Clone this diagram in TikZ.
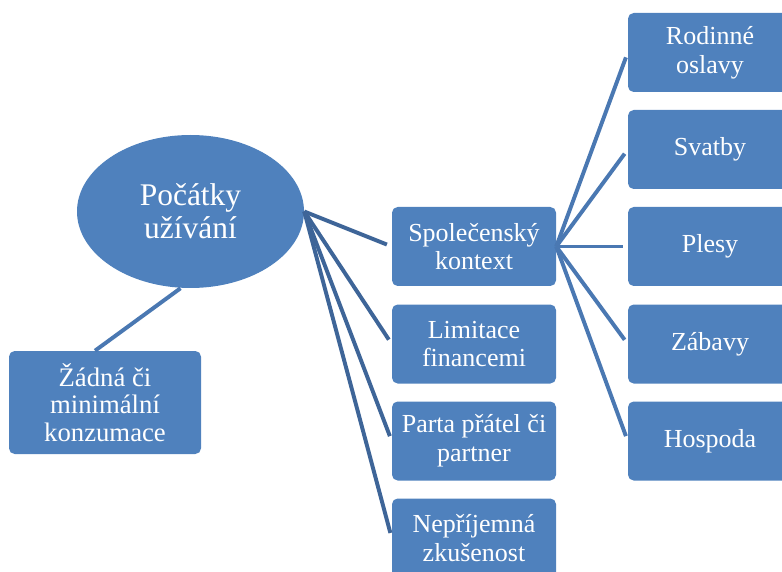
\documentclass[tikz,border=0pt]{standalone}
\usepackage{fontspec}
\setmainfont{Liberation Serif}
\definecolor{boxblue}{RGB}{79, 129, 189}
\definecolor{linkblue}{RGB}{74, 120, 178}
\definecolor{linkdark}{RGB}{62, 101, 152}
\usepackage{tikz}
\usetikzlibrary{shapes, positioning, calc}

\begin{document}
\begin{tikzpicture}[
		box/.style={rectangle, fill=boxblue, rounded corners=4pt,
			minimum width=4.1cm, minimum height=1.975cm,
			align=center, text=white, font=\fontsize{18.5}{20.5}\selectfont},
		root/.style={ellipse, fill=boxblue, inner sep=0pt,
			minimum width=5.675cm, minimum height=3.825cm,
			align=center, text=white, font=\fontsize{22.4}{23.5}\selectfont},
		link/.style={line width=2.8pt, color=linkblue},
		fan/.style={line width=2.8pt, color=linkdark, shorten >=0.13cm}
		]
		\useasboundingbox (0, 0) rectangle (19.55, -14.3) ;
		
		\node[root] (pocatky) at (4.7625, -5.2875)
		{Počátky\\užívání} ;
		
		\node[box, minimum width=4.8cm, minimum height=2.575cm,
		font=\fontsize{19}{19.4}\selectfont] (zadna) at (2.625, -10.0625)
		{Žádná či\\minimální\\konzumace} ;
		
		\node[box] (spolecensky) at (11.85, -6.1625) {Společenský\\kontext} ;
		\node[box] (limitace) at (11.85, -8.6) {Limitace\\financemi} ;
		\node[box] (parta) at (11.85, -11.025) {Parta přátel či\\partner} ;
		\node[box] (neprijemna) at (11.85, -13.45) {Nepříjemná\\zkušenost} ;
		
		\node[box] (oslavy) at (17.75, -1.3125) {Rodinné\\oslavy} ;
		\node[box] (svatby) at (17.75, -3.7375) {Svatby} ;
		\node[box] (plesy) at (17.75, -6.1625) {Plesy} ;
		\node[box] (zabavy) at (17.75, -8.6) {Zábavy} ;
		\node[box] (hospoda) at (17.75, -11.025) {Hospoda} ;
		
		\draw[link] ([xshift=-0.25cm]pocatky.south) -- ([xshift=-0.25cm]zadna.north) ;
		
		\draw[fan] (pocatky.east) -- (spolecensky.west) ;
		\draw[fan] (pocatky.east) -- (limitace.west) ;
		\draw[fan] (pocatky.east) -- (parta.west) ;
		\draw[fan] (pocatky.east) -- (neprijemna.west) ;
		
		\draw[link, shorten >=0.13cm] (spolecensky.east) -- (oslavy.west) ;
		\draw[link, shorten >=0.13cm] (spolecensky.east) -- (svatby.west) ;
		\draw[link, shorten >=0.13cm] (spolecensky.east) -- (plesy.west) ;
		\draw[link, shorten >=0.13cm] (spolecensky.east) -- (zabavy.west) ;
		\draw[link, shorten >=0.13cm] (spolecensky.east) -- (hospoda.west) ;
	\end{tikzpicture}
\end{document}
